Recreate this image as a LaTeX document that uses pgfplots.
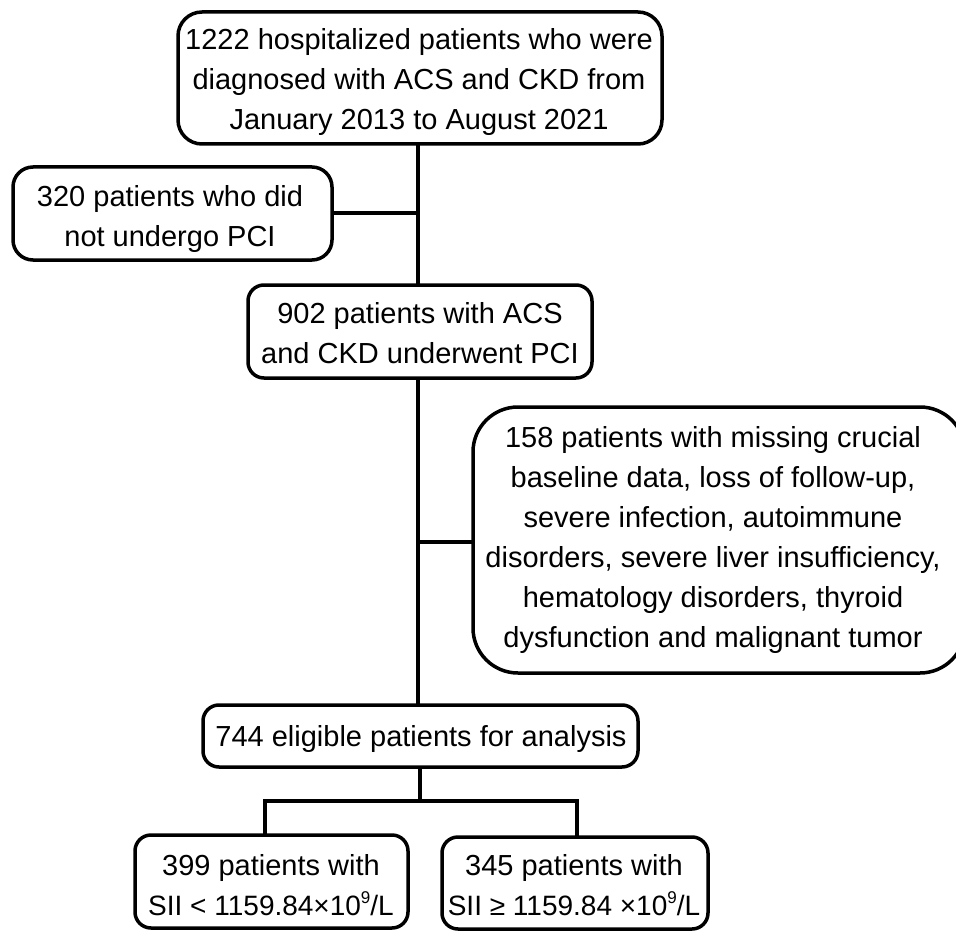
\documentclass[border=0pt]{standalone}
\usepackage{pgfplots}
\pgfplotsset{compat=1.18}
\usepackage{fontspec}
\setmainfont{Liberation Sans}
\newcommand{\fs}{\fontsize{29}{40}\selectfont}
\newcommand{\fss}{\fontsize{28}{40}\selectfont}
\newcommand{\supnine}[1]{\raisebox{0.42em}{\fontsize{17}{17}\selectfont #1}}
\begin{document}
\begin{tikzpicture}
\begin{axis}[
  scale only axis, width=956pt, height=931pt,
  xmin=0, xmax=956, ymin=0, ymax=931, y dir=reverse,
  hide axis, clip=true,
]
% invisible frame for the bounding box
\addplot[draw=none, forget plot] coordinates {(0,0) (956,931)};
% connectors
\pgfplotsset{conn/.style={black, line width=3.5pt, forget plot}}
\addplot[conn] coordinates {(418,145) (418,285)};
\addplot[conn] coordinates {(332,213) (418,213)};
\addplot[conn] coordinates {(418,378) (418,705)};
\addplot[conn] coordinates {(418,542) (473,542)};
\addplot[conn] coordinates {(420,767) (420,801)};
\addplot[conn, line join=miter] coordinates {(265,835) (265,801) (577,801) (577,837)};
% boxes
\pgfplotsset{bx/.style={black, line width=3.5pt, forget plot, line join=round}}
\addplot[bx, rounded corners=24pt] coordinates {(420,12) (662,12) (662,144) (178,144) (178,12) (420,12)};
\addplot[bx, rounded corners=20pt] coordinates {(172,167) (332,167) (332,260) (13,260) (13,167) (172,167)};
\addplot[bx, rounded corners=16pt] coordinates {(420,285) (592,285) (592,378) (248,378) (248,285) (420,285)};
\addplot[bx, rounded corners=45pt] coordinates {(712,407) (965,407) (965,673) (473,673) (473,407) (712,407)};
\addplot[bx, rounded corners=16pt] coordinates {(420,705) (638,705) (638,767) (203,767) (203,705) (420,705)};
\addplot[bx, rounded corners=16pt] coordinates {(272,835) (408,835) (408,928) (135,928) (135,835) (272,835)};
\addplot[bx, rounded corners=16pt] coordinates {(575,837) (708,837) (708,929) (442,929) (442,837) (575,837)};
% texts
\tikzset{t/.style={anchor=base, inner sep=0pt, font=\fs}}
\node[t] at (axis cs:419,50) {1222 hospitalized patients who were};
\node[t] at (axis cs:419,90) {diagnosed with ACS and CKD from};
\node[t] at (axis cs:419,130) {January 2013 to August 2021};
\node[t] at (axis cs:170,206) {320 patients who did};
\node[t] at (axis cs:170,246) {not undergo PCI};
\node[t] at (axis cs:420,323) {902 patients with ACS};
\node[t] at (axis cs:420,363) {and CKD underwent PCI};
\node[t] at (axis cs:713,447) {158 patients with missing crucial};
\node[t] at (axis cs:713,487) {baseline data, loss of follow-up,};
\node[t] at (axis cs:713,527) {severe infection, autoimmune};
\node[t] at (axis cs:713,567) {disorders, severe liver insufficiency,};
\node[t] at (axis cs:713,607) {hematology disorders, thyroid};
\node[t] at (axis cs:713,647) {dysfunction and malignant tumor};
\node[t] at (axis cs:421,746) {744 eligible patients for analysis};
\node[t] at (axis cs:271,875) {399 patients with};
\node[t, font=\fss] at (axis cs:271,915) {SII < 1159.84×10\supnine{9}/L};
\node[t] at (axis cs:574,875) {345 patients with};
\node[t, font=\fss] at (axis cs:574,915) {SII ≥ 1159.84 ×10\supnine{9}/L};
\end{axis}
\end{tikzpicture}
\end{document}
